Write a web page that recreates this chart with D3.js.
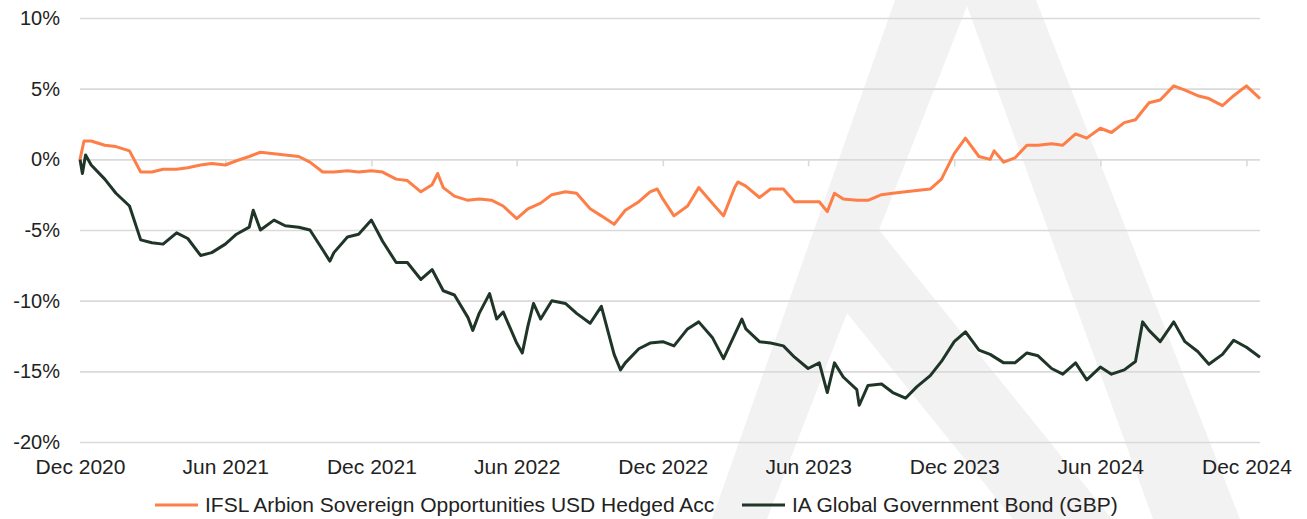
<!DOCTYPE html>
<html>
<head>
<meta charset="utf-8">
<script src="https://cdn.jsdelivr.net/npm/d3@7"></script>
<style>
  body { margin: 0; background: #fff; }
  svg text { font-family: "Liberation Sans", Arial, sans-serif; fill: #222; }
</style>
</head>
<body>
<svg id="chart" width="1307" height="519"></svg>
<script>
// values (roughly half-monthly, plus the visible spikes)
const ifslDates = [
  "2020-12-01","2020-12-06","2020-12-15","2021-01-01","2021-01-15","2021-02-01","2021-02-15",
  "2021-03-01","2021-03-15","2021-04-01","2021-04-15","2021-05-01","2021-05-15","2021-06-01",
  "2021-06-15","2021-07-01","2021-07-15","2021-08-01","2021-08-15","2021-09-01","2021-09-15",
  "2021-10-01","2021-10-15","2021-11-01","2021-11-15","2021-12-01","2021-12-15","2022-01-01",
  "2022-01-15","2022-02-01","2022-02-15","2022-02-22","2022-03-01","2022-03-15","2022-04-01",
  "2022-04-15","2022-05-01","2022-05-15","2022-06-01","2022-06-15","2022-07-01","2022-07-15",
  "2022-08-01","2022-08-15","2022-09-01","2022-09-15","2022-10-01","2022-10-15","2022-11-01",
  "2022-11-15","2022-11-24","2022-12-01","2022-12-15","2023-01-01","2023-01-15","2023-02-01",
  "2023-02-15","2023-03-01","2023-03-05","2023-03-15","2023-04-01","2023-04-15","2023-05-01",
  "2023-05-15","2023-06-01","2023-06-15","2023-06-25","2023-07-04","2023-07-15","2023-08-01",
  "2023-08-15","2023-09-01","2023-09-15","2023-10-01","2023-10-15","2023-11-01","2023-11-15",
  "2023-12-01","2023-12-15","2024-01-01","2024-01-15","2024-01-20","2024-02-01","2024-02-15",
  "2024-03-01","2024-03-15","2024-04-01","2024-04-15","2024-05-01","2024-05-15","2024-06-01",
  "2024-06-15","2024-07-01","2024-07-15","2024-08-01","2024-08-15","2024-09-01","2024-09-15",
  "2024-10-01","2024-10-15","2024-11-01","2024-11-15","2024-12-01","2024-12-18"
];
const ifslValues = [
  0.0, 1.3, 1.3, 1.0, 0.9, 0.6, -0.9,
  -0.9, -0.7, -0.7, -0.6, -0.4, -0.3, -0.4,
  -0.1, 0.2, 0.5, 0.4, 0.3, 0.2, -0.2,
  -0.9, -0.9, -0.8, -0.9, -0.8, -0.9, -1.4,
  -1.5, -2.3, -1.8, -1.0, -2.0, -2.6, -2.9,
  -2.8, -2.9, -3.3, -4.2, -3.5, -3.1, -2.5,
  -2.3, -2.4, -3.5, -4.0, -4.6, -3.6, -3.0,
  -2.3, -2.1, -2.8, -4.0, -3.3, -2.0, -3.1,
  -4.0, -2.0, -1.6, -1.9, -2.7, -2.1, -2.1,
  -3.0, -3.0, -3.0, -3.7, -2.4, -2.8, -2.9,
  -2.9, -2.5, -2.4, -2.3, -2.2, -2.1, -1.4,
  0.4, 1.5, 0.2, 0.0, 0.6, -0.2, 0.1,
  1.0, 1.0, 1.1, 1.0, 1.8, 1.5, 2.2,
  1.9, 2.6, 2.8, 4.0, 4.2, 5.2, 4.9,
  4.5, 4.3, 3.8, 4.5, 5.2, 4.3
];

const bondDates = [
  "2020-12-01","2020-12-04","2020-12-08","2020-12-15","2021-01-01","2021-01-15","2021-02-01",
  "2021-02-15","2021-03-01","2021-03-15","2021-04-01","2021-04-15","2021-05-01","2021-05-15",
  "2021-06-01","2021-06-15","2021-07-01","2021-07-06","2021-07-15","2021-08-01","2021-08-15",
  "2021-09-01","2021-09-15","2021-10-01","2021-10-10","2021-10-15","2021-11-01","2021-11-15",
  "2021-12-01","2021-12-15","2022-01-01","2022-01-15","2022-02-01","2022-02-15","2022-03-01",
  "2022-03-15","2022-04-01","2022-04-07","2022-04-15","2022-04-28","2022-05-07","2022-05-15",
  "2022-06-01","2022-06-08","2022-06-15","2022-06-22","2022-07-01","2022-07-15","2022-08-01",
  "2022-08-15","2022-09-01","2022-09-15","2022-10-01","2022-10-09","2022-10-15","2022-11-01",
  "2022-11-15","2022-12-01","2022-12-15","2023-01-01","2023-01-15","2023-02-01","2023-02-15",
  "2023-03-01","2023-03-10","2023-03-15","2023-04-01","2023-04-15","2023-05-01","2023-05-15",
  "2023-06-01","2023-06-15","2023-06-25","2023-07-04","2023-07-15","2023-08-01","2023-08-04",
  "2023-08-15","2023-09-01","2023-09-15","2023-10-01","2023-10-15","2023-11-01","2023-11-15",
  "2023-12-01","2023-12-15","2024-01-01","2024-01-15","2024-02-01","2024-02-15","2024-03-01",
  "2024-03-15","2024-04-01","2024-04-15","2024-05-01","2024-05-15","2024-06-01","2024-06-15",
  "2024-07-01","2024-07-15","2024-07-24","2024-08-01","2024-08-15","2024-09-01","2024-09-15",
  "2024-10-01","2024-10-15","2024-11-01","2024-11-15","2024-12-01","2024-12-18"
];
const bondValues = [
  0.0, -1.0, 0.3, -0.4, -1.4, -2.4, -3.3,
  -5.7, -5.9, -6.0, -5.2, -5.6, -6.8, -6.6,
  -6.0, -5.3, -4.8, -3.6, -5.0, -4.3, -4.7,
  -4.8, -5.0, -6.4, -7.2, -6.6, -5.5, -5.3,
  -4.3, -5.8, -7.3, -7.3, -8.5, -7.8, -9.3,
  -9.6, -11.2, -12.1, -10.9, -9.5, -11.3, -10.8,
  -13.0, -13.7, -11.8, -10.2, -11.3, -10.0, -10.2,
  -10.9, -11.6, -10.4, -13.8, -14.9, -14.4, -13.4,
  -13.0, -12.9, -13.2, -12.0, -11.5, -12.6, -14.1,
  -12.4, -11.3, -12.0, -12.9, -13.0, -13.2, -14.0,
  -14.8, -14.4, -16.5, -14.4, -15.4, -16.3, -17.4,
  -16.0, -15.9, -16.5, -16.9, -16.1, -15.3, -14.3,
  -12.9, -12.2, -13.5, -13.8, -14.4, -14.4, -13.7,
  -13.9, -14.8, -15.2, -14.4, -15.6, -14.7, -15.2,
  -14.9, -14.3, -11.5, -12.1, -12.9, -11.5, -12.9,
  -13.6, -14.5, -13.8, -12.8, -13.3, -14.0
];

const seriesNames = ["IFSL Arbion Sovereign Opportunities USD Hedged Acc", "IA Global Government Bond (GBP)"];
const seriesColors = ["#fe7e48", "#1f3528"];
const yTicks = [10, 5, 0, -5, -10, -15, -20];
const xTickDates = ["2020-12-01","2021-06-01","2021-12-01","2022-06-01","2022-12-01",
                    "2023-06-01","2023-12-01","2024-06-01","2024-12-01"];

const parse = d3.timeParse("%Y-%m-%d");
const svg = d3.select("#chart");

const x = d3.scaleTime()
  .domain([parse("2020-12-01"), parse("2024-12-18")])
  .range([80, 1260]);
const y = d3.scaleLinear().domain([-20, 10]).range([442, 18]);

// background watermark (logo "A")
const wm = svg.append("g");
wm.append("path").attr("d", "M895,0 L1036,0 L1240,519 L712,519 Z").attr("fill", "#f2f2f2");
wm.append("path").attr("d", "M967,6 L879,230 L1112,519 L1153,519 Z").attr("fill", "#fff");
wm.append("path").attr("d", "M847,313 L767,519 L1013,519 Z").attr("fill", "#fff");

// horizontal gridlines + y labels
svg.append("g")
  .attr("transform", "translate(80,0)")
  .call(d3.axisLeft(y).tickValues(yTicks).tickSize(-1180).tickPadding(20).tickFormat(d => d + "%"))
  .call(g => g.select(".domain").remove())
  .call(g => g.selectAll("line").attr("stroke", "#dadada").attr("stroke-width", 1.6))
  .call(g => g.selectAll("text").attr("font-size", 20).style("fill", "#222"));

// small ticks on the zero line
svg.append("g")
  .attr("transform", `translate(0,${y(0)})`)
  .call(d3.axisBottom(x).tickValues(xTickDates.map(parse)).tickSize(7).tickFormat(""))
  .call(g => g.select(".domain").remove())
  .call(g => g.selectAll("line").attr("stroke", "#dadada").attr("stroke-width", 1.6));

// x labels at the bottom
svg.append("g")
  .attr("transform", "translate(0,457)")
  .call(d3.axisBottom(x).tickValues(xTickDates.map(parse)).tickSize(0).tickPadding(2)
        .tickFormat(d3.timeFormat("%b %Y")))
  .call(g => g.select(".domain").remove())
  .call(g => g.selectAll("text").attr("font-size", 21).style("fill", "#222"));

function drawSeries(ds, vs, color) {
  const pts = ds.map((d, i) => [x(parse(d)), y(vs[i])]);
  svg.append("path")
    .attr("d", d3.line()(pts))
    .attr("fill", "none")
    .attr("stroke", color).attr("stroke-width", 3).attr("stroke-linejoin", "round");
}
drawSeries(bondDates, bondValues, seriesColors[1]);
drawSeries(ifslDates, ifslValues, seriesColors[0]);

// legend
const legendX = [155, 742];
const leg = svg.append("g");
seriesNames.forEach((name, i) => {
  leg.append("line")
    .attr("x1", legendX[i]).attr("x2", legendX[i] + 43)
    .attr("y1", 505).attr("y2", 505)
    .attr("stroke", seriesColors[i]).attr("stroke-width", 3);
  leg.append("text")
    .attr("x", legendX[i] + 50).attr("y", 505).attr("dy", "0.35em")
    .attr("font-size", 21).text(name);
});
</script>
</body>
</html>
